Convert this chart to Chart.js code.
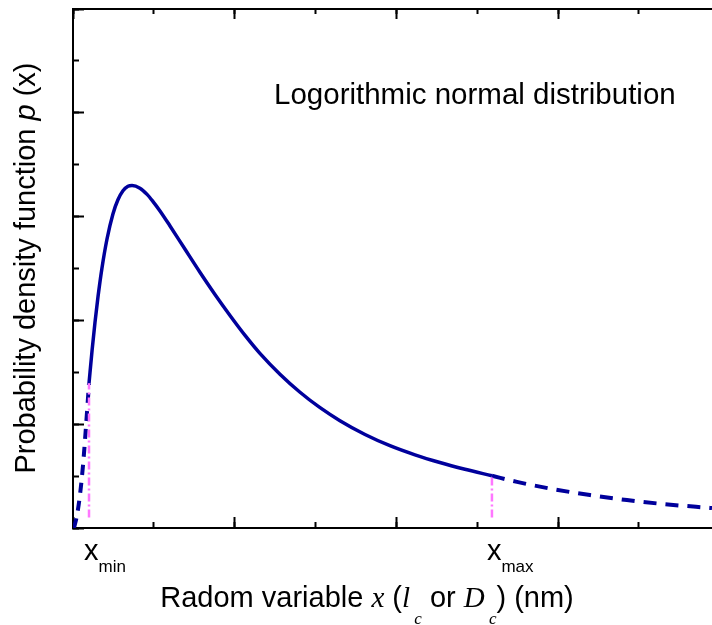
<!DOCTYPE html>
<html>
<head>
<meta charset="utf-8">
<script src="https://cdn.jsdelivr.net/npm/chart.js@4.4.1/dist/chart.umd.min.js"></script>
<style>
  html, body { margin: 0; padding: 0; background: #fff; }
  #wrap { width: 712px; height: 625px; position: relative; }
</style>
</head>
<body>
<div id="wrap"><canvas id="pdfChart"></canvas></div>
<script>
// values (x in axis units, y in axis units)
const leftX  = [0.006, 0.025, 0.043, 0.062, 0.080, 0.099];
const leftY  = [0.000, 0.125, 0.317, 0.606, 0.971, 1.394];
const mainX  = [0.099, 0.118, 0.136, 0.155, 0.179, 0.210, 0.247, 0.278, 0.309, 0.340, 0.365, 0.414, 0.458, 0.495, 0.538,
                0.600, 0.693, 0.785, 0.878, 0.971, 1.064, 1.156, 1.280, 1.404, 1.528, 1.651, 1.806, 1.960, 2.115, 2.269, 2.424, 2.591];
const mainY  = [1.394, 1.711, 1.981, 2.232, 2.503, 2.782, 3.026, 3.162, 3.249, 3.292, 3.300, 3.274, 3.214, 3.145, 3.055,
                2.910, 2.685, 2.464, 2.250, 2.048, 1.856, 1.683, 1.482, 1.308, 1.159, 1.034, 0.901, 0.793, 0.705, 0.631, 0.566, 0.503];
const rightX = [2.591, 2.746, 2.968, 3.197, 3.426, 3.649, 3.952];
const rightY = [0.503, 0.444, 0.375, 0.317, 0.269, 0.231, 0.192];
const limitX = [0.099, 2.591];         // x_min, x_max
const limitTop = [1.394, 0.503];       // where the marker meets the curve
const limitBottom = 0.1;
const limitNames = ['min', 'max'];

const navy = '#00009c';
const pink = '#ff77ff';

const pts = (xs, ys) => xs.map((x, i) => ({ x: x, y: ys[i] }));

const zero = s => { if (s.isHorizontal()) s.height = 0; else s.width = 0; };

function axis(position, step, len, showBorder) {
  const horiz = position === 'top' || position === 'bottom';
  return {
    type: 'linear',
    position: position,
    min: 0,
    max: horiz ? 3.952 : 5,
    display: true,
    ticks: { display: false, stepSize: step, includeBounds: false },
    grid: { drawOnChartArea: false, drawTicks: true, tickLength: -len, tickWidth: 2, tickColor: '#000' },
    border: { display: showBorder, color: '#000', width: 2 },
    afterFit: zero
  };
}

function richText(ctx, parts, cx, y) {
  let total = 0;
  parts.forEach(p => { ctx.font = p.font; total += ctx.measureText(p.t).width; });
  let x = cx - total / 2;
  parts.forEach(p => {
    ctx.font = p.font;
    ctx.fillText(p.t, x, y + (p.dy || 0));
    x += ctx.measureText(p.t).width;
  });
}

const sans = '29px "Liberation Sans", Arial, sans-serif';
const serifI = 'italic 29px "Liberation Serif", "Times New Roman", serif';
const serifSub = 'italic 17px "Liberation Serif", "Times New Roman", serif';

const labelsPlugin = {
  id: 'labels',
  afterDraw(chart) {
    const ctx = chart.ctx;
    const xs = chart.scales.x;
    ctx.save();
    ctx.fillStyle = '#000';
    ctx.textBaseline = 'alphabetic';
    ctx.textAlign = 'left';

    // annotation
    ctx.font = '29.5px "Liberation Sans", Arial, sans-serif';
    ctx.fillText('Logorithmic normal distribution', 274, 104);

    // x_min / x_max under the axis
    limitX.forEach((v, i) => {
      const px = xs.getPixelForValue(v);
      ctx.font = sans;
      ctx.fillText('x', px - 5, 560);
      const w = ctx.measureText('x').width;
      ctx.font = '17px "Liberation Sans", Arial, sans-serif';
      ctx.fillText(limitNames[i], px - 5 + w, 572);
    });

    // x axis title
    richText(ctx, [
      { t: 'Radom variable ', font: sans },
      { t: 'x', font: serifI },
      { t: ' (', font: sans },
      { t: 'l', font: serifI },
      { t: ' c', font: serifSub, dy: 17 },
      { t: ' or ', font: sans },
      { t: 'D', font: serifI },
      { t: ' c', font: serifSub, dy: 17 },
      { t: ') (nm)', font: sans }
    ], 367, 607);

    // y axis title
    ctx.translate(35, 268);
    ctx.rotate(-Math.PI / 2);
    richText(ctx, [
      { t: 'Probability density function ', font: sans },
      { t: 'p', font: 'italic 29px "Liberation Sans", Arial, sans-serif' },
      { t: ' (x)', font: sans }
    ], 0, 0);
    ctx.restore();
  }
};

const ctx = document.getElementById('pdfChart').getContext('2d');
const pdfChart = new Chart(ctx, {
  type: 'line',
  data: {
    datasets: [
      {
        data: pts([limitX[0], limitX[0]], [limitBottom, limitTop[0]]),
        borderColor: pink, borderWidth: 2.5, borderDash: [8, 3, 2, 3],
        pointRadius: 0, xAxisID: 'x', yAxisID: 'y'
      },
      {
        data: pts([limitX[1], limitX[1]], [limitBottom, limitTop[1]]),
        borderColor: pink, borderWidth: 2.5, borderDash: [8, 3, 2, 3],
        pointRadius: 0, xAxisID: 'x', yAxisID: 'y'
      },
      {
        data: pts(leftX, leftY),
        borderColor: navy, borderWidth: 4, borderDash: [10, 8],
        cubicInterpolationMode: 'monotone', pointRadius: 0, xAxisID: 'x', yAxisID: 'y'
      },
      {
        data: pts(mainX, mainY),
        borderColor: navy, borderWidth: 3.5,
        cubicInterpolationMode: 'monotone', pointRadius: 0, xAxisID: 'x', yAxisID: 'y'
      },
      {
        data: pts(rightX, rightY),
        borderColor: navy, borderWidth: 4, borderDash: [13, 9],
        cubicInterpolationMode: 'monotone', pointRadius: 0, xAxisID: 'x', yAxisID: 'y'
      }
    ]
  },
  options: {
    responsive: true,
    maintainAspectRatio: false,
    animation: false,
    layout: { padding: { left: 73, top: 9, right: 0, bottom: 97 } },
    plugins: {
      legend: { display: false },
      tooltip: { enabled: false }
    },
    scales: {
      x: axis('bottom', 1, 11, true),
      xMinor: axis('bottom', 0.5, 6, false),
      xTop: axis('top', 1, 10, true),
      xTopMinor: axis('top', 0.5, 5, false),
      y: axis('left', 1, 11, true),
      yMinor: axis('left', 0.5, 6, false)
    }
  },
  plugins: [labelsPlugin]
});
</script>
</body>
</html>
